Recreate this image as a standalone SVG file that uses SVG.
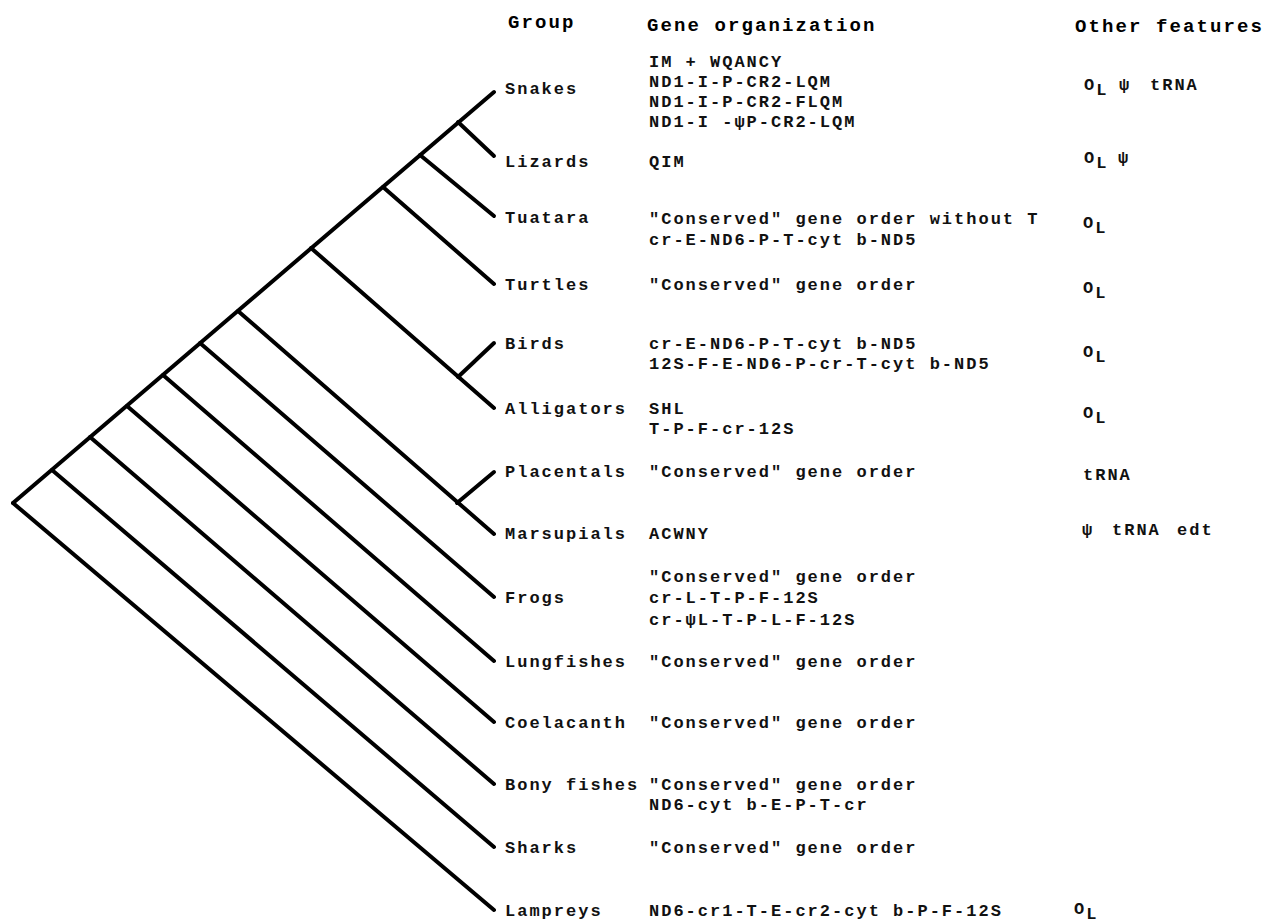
<svg xmlns="http://www.w3.org/2000/svg" width="1266" height="924" viewBox="0 0 1266 924">
<style>
.t{font-family:"Liberation Mono","DejaVu Sans Mono",monospace;font-size:17px;font-weight:bold;letter-spacing:2px;fill:#111}
.h{font-family:"Liberation Mono","DejaVu Sans Mono",monospace;font-size:19px;font-weight:bold;letter-spacing:2.1px;fill:#000}
.e{stroke:#000;stroke-width:4;stroke-linecap:round;fill:none}
</style>
<rect width="1266" height="924" fill="#fff"/>
<g id="headers">
<text class="h" x="508" y="28">Group</text>
<text class="h" x="647" y="31">Gene organization</text>
<text class="h" x="1075" y="32">Other features</text>
</g>
<g id="connectors">
<line class="e" x1="13" y1="503" x2="494" y2="92"/>
<line class="e" x1="13" y1="503" x2="494" y2="910"/>
<line class="e" x1="52" y1="470" x2="494" y2="847"/>
<line class="e" x1="90" y1="437" x2="494" y2="784"/>
<line class="e" x1="127" y1="406" x2="494" y2="722"/>
<line class="e" x1="163" y1="375" x2="494" y2="661"/>
<line class="e" x1="200" y1="343" x2="494" y2="597"/>
<line class="e" x1="238" y1="311" x2="494" y2="534"/>
<line class="e" x1="457" y1="503" x2="494" y2="472"/>
<line class="e" x1="311" y1="248" x2="494" y2="408"/>
<line class="e" x1="458" y1="377" x2="494" y2="343"/>
<line class="e" x1="383" y1="187" x2="494" y2="284"/>
<line class="e" x1="420" y1="155" x2="494" y2="216"/>
<line class="e" x1="458" y1="122" x2="494" y2="156"/>
</g>
<g id="snakes">
<text class="t" x="505" y="94">Snakes</text>
<text class="t" x="649" y="67">IM + WQANCY</text>
<text class="t" x="649" y="87">ND1-I-P-CR2-LQM</text>
<text class="t" x="649" y="107">ND1-I-P-CR2-FLQM</text>
<text class="t" x="649" y="127">ND1-I -ψP-CR2-LQM</text>
<text class="t" x="1084" y="90">O<tspan dy="5">L</tspan><tspan x="1119" dy="-5">ψ</tspan><tspan x="1150">tRNA</tspan></text>
</g>
<g id="lizards">
<text class="t" x="505" y="167">Lizards</text>
<text class="t" x="649" y="167">QIM</text>
<text class="t" x="1084" y="163">O<tspan dy="5">L</tspan><tspan x="1118" dy="-5">ψ</tspan></text>
</g>
<g id="tuatara">
<text class="t" x="505" y="223">Tuatara</text>
<text class="t" x="649" y="224">"Conserved" gene order without T</text>
<text class="t" x="649" y="245">cr-E-ND6-P-T-cyt b-ND5</text>
<text class="t" x="1083" y="228">O<tspan dy="5">L</tspan></text>
</g>
<g id="turtles">
<text class="t" x="505" y="290">Turtles</text>
<text class="t" x="649" y="290">"Conserved" gene order</text>
<text class="t" x="1083" y="293">O<tspan dy="5">L</tspan></text>
</g>
<g id="birds">
<text class="t" x="505" y="349">Birds</text>
<text class="t" x="649" y="349">cr-E-ND6-P-T-cyt b-ND5</text>
<text class="t" x="649" y="369">12S-F-E-ND6-P-cr-T-cyt b-ND5</text>
<text class="t" x="1083" y="357">O<tspan dy="5">L</tspan></text>
</g>
<g id="alligators">
<text class="t" x="505" y="414">Alligators</text>
<text class="t" x="649" y="414">SHL</text>
<text class="t" x="649" y="434">T-P-F-cr-12S</text>
<text class="t" x="1083" y="418">O<tspan dy="5">L</tspan></text>
</g>
<g id="placentals">
<text class="t" x="505" y="477">Placentals</text>
<text class="t" x="649" y="477">"Conserved" gene order</text>
<text class="t" x="1083" y="480">tRNA</text>
</g>
<g id="marsupials">
<text class="t" x="505" y="539">Marsupials</text>
<text class="t" x="649" y="539">ACWNY</text>
<text class="t" x="1082" y="535">ψ<tspan x="1112">tRNA</tspan><tspan x="1177">edt</tspan></text>
</g>
<g id="frogs">
<text class="t" x="505" y="603">Frogs</text>
<text class="t" x="649" y="582">"Conserved" gene order</text>
<text class="t" x="649" y="603">cr-L-T-P-F-12S</text>
<text class="t" x="649" y="625">cr-ψL-T-P-L-F-12S</text>
</g>
<g id="lungfishes">
<text class="t" x="505" y="667">Lungfishes</text>
<text class="t" x="649" y="667">"Conserved" gene order</text>
</g>
<g id="coelacanth">
<text class="t" x="505" y="728">Coelacanth</text>
<text class="t" x="649" y="728">"Conserved" gene order</text>
</g>
<g id="bonyfishes">
<text class="t" x="505" y="790">Bony fishes</text>
<text class="t" x="649" y="790">"Conserved" gene order</text>
<text class="t" x="649" y="810">ND6-cyt b-E-P-T-cr</text>
</g>
<g id="sharks">
<text class="t" x="505" y="853">Sharks</text>
<text class="t" x="649" y="853">"Conserved" gene order</text>
</g>
<g id="lampreys">
<text class="t" x="505" y="916">Lampreys</text>
<text class="t" x="649" y="916">ND6-cr1-T-E-cr2-cyt b-P-F-12S</text>
<text class="t" x="1074" y="914">O<tspan dy="5">L</tspan></text>
</g>
</svg>
